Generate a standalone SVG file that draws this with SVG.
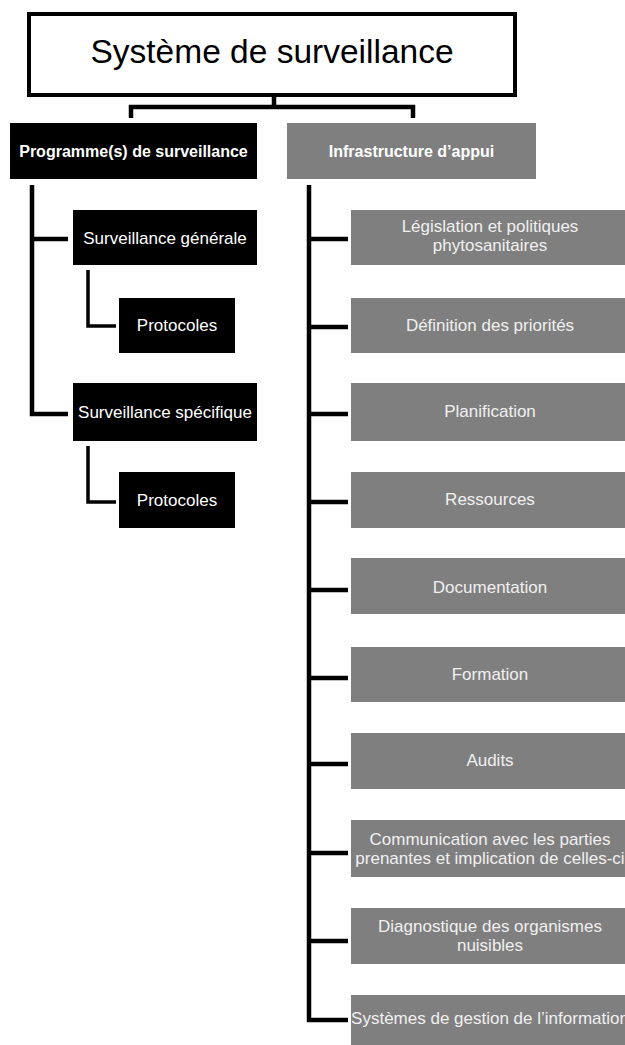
<svg xmlns="http://www.w3.org/2000/svg" width="625" height="1045" viewBox="0 0 625 1045">
<style>
.lbl{font-family:"Liberation Sans",Arial,sans-serif;font-size:17px;text-anchor:middle}
.w{fill:#ffffff}
.g{fill:#f0f0f0}
.hd{font-family:"Liberation Sans",Arial,sans-serif;font-size:16px;font-weight:bold;text-anchor:middle;fill:#ffffff}
.blk{fill:#000000}
.gry{fill:#7f7f7f}
.ln{fill:none;stroke:#000000;stroke-width:4.5;stroke-linejoin:miter}
.ln2{fill:none;stroke:#000000;stroke-width:3.5}
</style>
<rect width="625" height="1045" fill="#ffffff"/>
<g id="connectors">
<path class="ln" d="M274,97 V107 M131,118 V107 H413 V118"/>
<path class="ln" d="M32,185 V414 H68 M32,239 H68"/>
<path class="ln2" d="M88,270 V326 H116 M88,446 V502 H116"/>
<path class="ln" d="M309,185 V1020 H348 M309,239 H348 M309,327 H348 M309,414 H348 M309,502 H348 M309,590 H348 M309,678 H348 M309,764 H348 M309,853 H348 M309,941 H348"/>
</g>
<g id="title">
<rect x="29" y="14" width="486" height="81" fill="#ffffff" stroke="#000000" stroke-width="4"/>
<text x="272" y="63" font-family="Liberation Sans,Arial,sans-serif" font-size="33.5" text-anchor="middle" fill="#000000">Système de surveillance</text>
</g>
<g id="programme">
<rect class="blk" x="10" y="123" width="247" height="56"/>
<text class="hd" x="133.5" y="157">Programme(s) de surveillance</text>
</g>
<g id="infrastructure">
<rect class="gry" x="287" y="123" width="249" height="56"/>
<text class="hd" x="411.5" y="157">Infrastructure d’appui</text>
</g>
<g id="surv-generale">
<rect class="blk" x="73" y="210" width="184" height="55"/>
<text class="lbl w" x="165" y="244">Surveillance générale</text>
</g>
<g id="protocoles-1">
<rect class="blk" x="119" y="298" width="116" height="55"/>
<text class="lbl w" x="177" y="331">Protocoles</text>
</g>
<g id="surv-specifique">
<rect class="blk" x="73" y="383" width="184" height="58"/>
<text class="lbl w" x="165" y="418">Surveillance spécifique</text>
</g>
<g id="protocoles-2">
<rect class="blk" x="119" y="472" width="116" height="56"/>
<text class="lbl w" x="177" y="506">Protocoles</text>
</g>
<g id="legislation">
<rect class="gry" x="351" y="210" width="285" height="55"/>
<text class="lbl g" x="490" y="232">Législation et politiques</text>
<text class="lbl g" x="490" y="251">phytosanitaires</text>
</g>
<g id="definition">
<rect class="gry" x="351" y="298" width="285" height="55"/>
<text class="lbl g" x="490" y="331">Définition des priorités</text>
</g>
<g id="planification">
<rect class="gry" x="351" y="383" width="285" height="58"/>
<text class="lbl g" x="490" y="417">Planification</text>
</g>
<g id="ressources">
<rect class="gry" x="351" y="472" width="285" height="56"/>
<text class="lbl g" x="490" y="505">Ressources</text>
</g>
<g id="documentation">
<rect class="gry" x="351" y="558" width="285" height="56"/>
<text class="lbl g" x="490" y="593">Documentation</text>
</g>
<g id="formation">
<rect class="gry" x="351" y="647" width="285" height="55"/>
<text class="lbl g" x="490" y="680">Formation</text>
</g>
<g id="audits">
<rect class="gry" x="351" y="733" width="285" height="56"/>
<text class="lbl g" x="490" y="766">Audits</text>
</g>
<g id="communication">
<rect class="gry" x="351" y="820" width="285" height="57"/>
<text class="lbl g" x="490" y="845">Communication avec les parties</text>
<text class="lbl g" x="490" y="864">prenantes et implication de celles-ci</text>
</g>
<g id="diagnostique">
<rect class="gry" x="351" y="908" width="285" height="56"/>
<text class="lbl g" x="490" y="932">Diagnostique des organismes</text>
<text class="lbl g" x="490" y="951">nuisibles</text>
</g>
<g id="systemes">
<rect class="gry" x="351" y="995" width="285" height="56"/>
<text class="lbl g" x="490" y="1024">Systèmes de gestion de l’information</text>
</g>
</svg>
